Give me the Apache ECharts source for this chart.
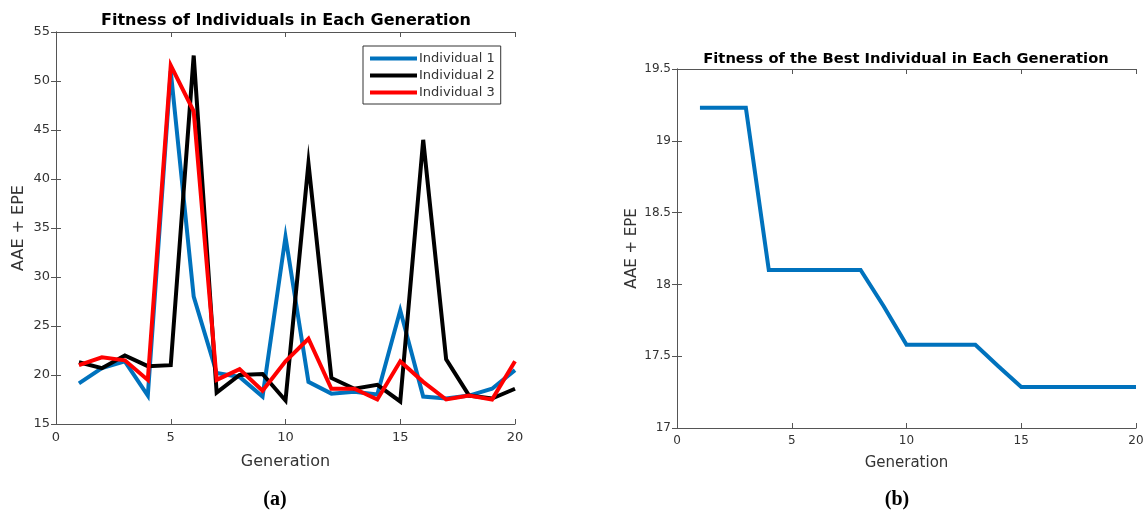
<!DOCTYPE html>
<html><head><meta charset="utf-8">
<script src="https://cdn.jsdelivr.net/npm/echarts@6/dist/echarts.min.js"></script>
<style>html,body{margin:0;padding:0;background:#fff;}#c{width:1148px;height:516px;}</style>
</head><body><div id="c"></div>
<script>
var generations = [1,2,3,4,5,6,7,8,9,10,11,12,13,14,15,16,17,18,19,20];
var individual1 = [19.15,20.7,21.4,17.9,51.0,28.0,20.2,19.8,17.8,34.1,19.3,18.1,18.3,18.0,26.6,17.8,17.6,17.9,18.6,20.5];
var individual2 = [21.3,20.7,22.0,20.9,21.0,52.6,18.2,20.0,20.1,17.4,41.6,19.7,18.6,19.0,17.3,44.0,21.6,17.9,17.6,18.6];
var individual3 = [21.0,21.8,21.5,19.5,51.6,46.9,19.5,20.6,18.4,21.4,23.7,18.6,18.6,17.5,21.4,19.3,17.5,17.9,17.5,21.4];
var bestFitness = [19.23,19.23,19.23,18.1,18.1,18.1,18.1,18.1,17.85,17.58,17.58,17.58,17.58,17.43,17.285,17.285,17.285,17.285,17.285,17.285];
var seriesNames = ['Individual 1','Individual 2','Individual 3'];
var titleA = 'Fitness of Individuals in Each Generation';
var titleB = 'Fitness of the Best Individual in Each Generation';

function pairs(ys){ return generations.map(function(g,i){ return [g, ys[i]]; }); }

var FONT = 'DejaVu Sans';
var AX = '#555555';
var LBL = '#333333';
function bottomX(gi,fs,nfs,gap){ return {type:'value', gridIndex:gi, position:'bottom', min:0, max:20, interval:5,
  axisLine:{lineStyle:{color:AX,width:1}}, axisTick:{inside:true,length:5,lineStyle:{color:AX}},
  axisLabel:{color:LBL,fontSize:fs,fontFamily:FONT,margin:7}, splitLine:{show:false},
  name:'Generation', nameLocation:'middle', nameGap:gap, nameTextStyle:{color:LBL,fontSize:nfs,fontFamily:FONT}}; }
function topX(gi){ return {type:'value', gridIndex:gi, position:'top', min:0, max:20, interval:5,
  axisLine:{lineStyle:{color:AX,width:1}}, axisTick:{inside:true,length:5,lineStyle:{color:AX}},
  axisLabel:{show:false}, splitLine:{show:false}}; }
function leftY(gi,mn,mx,iv,fs,nfs,gap){ return {type:'value', gridIndex:gi, position:'left', min:mn, max:mx, interval:iv,
  axisLine:{show:true,lineStyle:{color:AX,width:1}}, axisTick:{show:true,inside:true,length:5,lineStyle:{color:AX}},
  axisLabel:{color:LBL,fontSize:fs,fontFamily:FONT,margin:6}, splitLine:{show:false},
  name:'AAE + EPE', nameLocation:'middle', nameGap:gap, nameTextStyle:{color:LBL,fontSize:nfs,fontFamily:FONT}}; }
function rightY(gi,mn,mx,iv){ return {type:'value', gridIndex:gi, position:'right', min:mn, max:mx, interval:iv,
  axisLine:{show:true,lineStyle:{color:AX,width:1}}, axisTick:{show:true,inside:true,length:5,lineStyle:{color:AX}},
  axisLabel:{show:false}, splitLine:{show:false}}; }

function lineSeries(name, ys, color, gi){
  return {name:name, type:'line', xAxisIndex:gi*2, yAxisIndex:gi*2, data:pairs(ys), showSymbol:false, symbol:'none',
    lineStyle:{color:color,width:4,join:'miter',cap:'butt'}, itemStyle:{color:color}, animation:false, z:3};
}

var cap = {p:{fontFamily:'Liberation Serif',fontSize:20,color:'#000'},b:{fontFamily:'Liberation Serif',fontSize:20,fontWeight:'bold',color:'#000'}};
var chart = echarts.init(document.getElementById('c'), null, {renderer:'canvas'});
chart.setOption({
  animation:false,
  backgroundColor:'#fff',
  title:[
    {text:titleA, left:281, top:8, textAlign:'center', textStyle:{fontFamily:FONT,fontSize:16,fontWeight:'bold',color:'#000'}},
    {text:titleB, left:901, top:47, textAlign:'center', textStyle:{fontFamily:FONT,fontSize:14.7,fontWeight:'bold',color:'#000'}},
    {text:'{p|(}{b|a}{p|)}', left:270, top:485, textAlign:'center', textStyle:{rich:cap}},
    {text:'{p|(}{b|b}{p|)}', left:892, top:485, textAlign:'center', textStyle:{rich:cap}}
  ],
  legend:{data:seriesNames, orient:'vertical', left:363, top:46, itemWidth:47, itemHeight:4, itemGap:4,
    icon:'rect', padding:[6,6,5,7], borderColor:'#333', borderWidth:1, backgroundColor:'#fff',
    textStyle:{fontFamily:FONT,fontSize:13,color:LBL,padding:[0,0,0,-3]}},
  grid:[
    {left:56, top:32, width:459, height:392},
    {left:677, top:69, width:459, height:359}
  ],
  xAxis:[bottomX(0,13,16,30), topX(0), bottomX(1,12,15,28), topX(1)],
  yAxis:[leftY(0,15,55,5,13,16,29), rightY(0,15,55,5), leftY(1,17,19.5,0.5,12,15,37), rightY(1,17,19.5,0.5)],
  series:[
    lineSeries(seriesNames[0], individual1, '#0072BD', 0),
    lineSeries(seriesNames[1], individual2, '#000000', 0),
    lineSeries(seriesNames[2], individual3, '#FF0000', 0),
    lineSeries('Best', bestFitness, '#0072BD', 1)
  ]
});
</script></body></html>
